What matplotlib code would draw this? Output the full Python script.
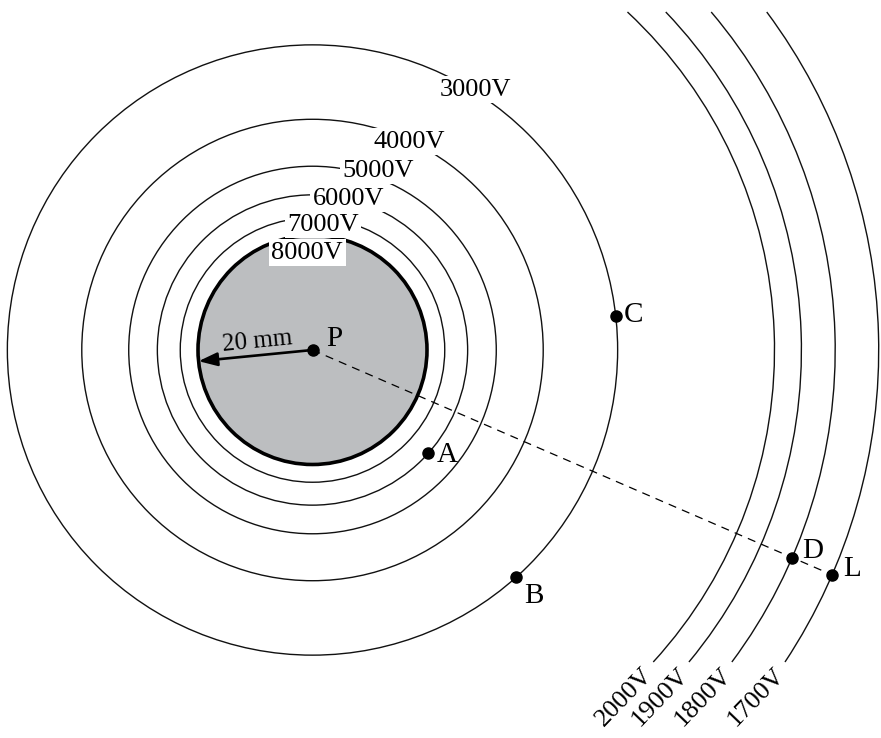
import numpy as np
import matplotlib.pyplot as plt
from matplotlib.patches import Circle, Arc

plt.rcParams['font.family'] = ['Liberation Serif', 'DejaVu Serif']

# equipotential lines round the charged sphere, radii in mm
inner_volts = ['8000V', '7000V', '6000V', '5000V', '4000V', '3000V']
inner_radii = [20.0, 23.1, 27.1, 32.1, 40.3, 53.3]
inner_label_angle = [93.0, 85.3, 76.7, 70.2, 65.4, 58.3]
inner_label_r = [17.5, 22.4, 27.6, 33.8, 40.5, 54.0]

outer_volts = ['2000V', '1900V', '1800V', '1700V']
outer_radii = [80.7, 85.4, 91.3, 98.9]

# marked points: radius of the line they sit on, angle in degrees
point_names = ['A', 'B', 'C', 'D', 'L']
point_radii = [27.1, 53.3, 53.3, 91.3, 98.9]
point_angles = [-41.7, -48.2, 6.4, -23.4, -23.4]
label_dx = [3.3, 3.1, 3.1, 3.5, 3.5]
label_dy = [-0.4, -3.2, 0.1, 1.2, 1.0]

px = 5.725  # pixels per mm
fig = plt.figure(figsize=(8.81, 7.38), dpi=100)
ax = fig.add_axes([0, 0, 1, 1])
ax.set_xlim(-312.5 / px, (881 - 312.5) / px)
ax.set_ylim(-(738 - 350) / px, 350 / px)
ax.axis('off')

# sphere
ax.add_patch(Circle((0, 0), inner_radii[0], facecolor='#bcbec0',
                    edgecolor='black', lw=2.6, zorder=2))
for r in inner_radii[1:]:
    ax.add_patch(Circle((0, 0), r, fill=False, edgecolor='#111111', lw=1.0, zorder=1))

for name, r, a in zip(inner_volts, inner_label_r, inner_label_angle):
    t = np.radians(a)
    ax.text(r * np.cos(t), r * np.sin(t) - 0.45, name, fontsize=19, ha='center', va='center',
            zorder=5, bbox=dict(boxstyle='square,pad=0.1', fc='white', ec='none'))

# outer arcs, cut off at the top and bottom of the drawing
y_top = (350 - 12) / px
y_bot = -(662 - 350) / px
for name, r in zip(outer_volts, outer_radii):
    t1 = np.degrees(np.arcsin(y_bot / r))
    t2 = np.degrees(np.arcsin(y_top / r))
    ax.add_patch(Arc((0, 0), 2 * r, 2 * r, theta1=t1, theta2=t2,
                     edgecolor='#111111', lw=1.0))
    xe = np.sqrt(r ** 2 - y_bot ** 2)
    ax.text(xe - 5.0, y_bot - 6.2, name, fontsize=19, rotation=46,
            ha='center', va='center')

# dashed line from P through D to L
tl = np.radians(point_angles[-1])
ax.plot([0, point_radii[-1] * np.cos(tl)], [0, point_radii[-1] * np.sin(tl)],
        color='black', lw=0.9, linestyle=(0, (6.5, 5)), zorder=3)

# radius arrow
ta = np.radians(185.6)
ax.annotate('', xy=(inner_radii[0] * np.cos(ta), inner_radii[0] * np.sin(ta)), xytext=(0, 0),
            arrowprops=dict(arrowstyle='-|>,head_length=0.75,head_width=0.27', lw=1.9,
                            color='black', mutation_scale=15, shrinkA=0, shrinkB=0),
            zorder=4)
ax.text(-9.7, 1.5, '20 mm', fontsize=18, rotation=5.6, ha='center', va='center', zorder=4)

# points
ax.plot(0, 0, 'o', color='black', ms=8, zorder=6)
ax.text(3.8, 2.0, 'P', fontsize=21, ha='center', va='center', zorder=6)
for name, r, a, dx, dy in zip(point_names, point_radii, point_angles, label_dx, label_dy):
    t = np.radians(a)
    x, y = r * np.cos(t), r * np.sin(t)
    ax.plot(x, y, 'o', color='black', ms=8, zorder=6)
    ax.text(x + dx, y + dy, name, fontsize=21, ha='center', va='center', zorder=6)

fig.savefig('out.png', dpi=100)
